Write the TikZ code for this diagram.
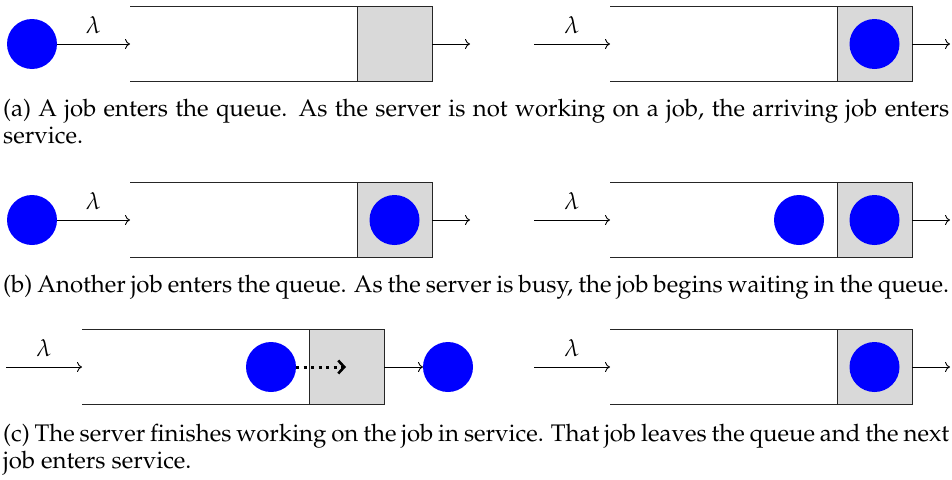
\documentclass[tikz,border=0pt]{standalone}
\usepackage[T1]{fontenc}
\usepackage{mathpazo}
\usetikzlibrary{arrows.meta}

\tikzset{
  queue/.style={rectangle, minimum width=227pt, minimum height=75pt, inner sep=0pt, outer sep=0pt},
  serverbox/.style={rectangle, draw=black!85, fill=black!15, line width=1pt, minimum size=75pt, inner sep=0pt, outer sep=0pt},
  job/.style={circle, fill=blue, minimum size=50pt, inner sep=0pt, outer sep=0pt},
  wall/.style={draw=black!85, line width=1pt},
  flow/.style={line width=0.9pt, -{To[length=5pt,width=10pt]}},
  moving/.style={line width=3pt, dash pattern=on 3pt off 4.5pt, -{Straight Barb[length=6pt,width=13pt,line width=2.6pt]}},
  rate/.style={above=10pt, inner sep=0pt, font=\fontsize{24}{26}\selectfont},
  caption/.style={anchor=base west, inner sep=0pt, font=\fontsize{24}{26.5}\selectfont}
}

\begin{document}
\begin{tikzpicture}[x=1pt, y=-1pt]
\useasboundingbox (0,0) rectangle (952,479);

% ---------- (a) left: a job arrives at an empty system
\node[job] (ja0) at (32,44) {};
\node[queue] (qa1) at (243.5,44) {};
\node[serverbox] (sa1) at (394.5,44) {};
\draw[wall] (qa1.north west) -- (sa1.north west) (qa1.south west) -- (sa1.south west);
\coordinate (oa1) at (470,44);
\draw[flow] (ja0) -- node[rate] {$\lambda$} (qa1.west);
\draw[flow] (sa1.east) -- (oa1);

% ---------- (a) right: the job is in service
\coordinate (ia2) at (534,44);
\node[queue] (qa2) at (723.5,44) {};
\node[serverbox] (sa2) at (874.5,44) {};
\draw[wall] (qa2.north west) -- (sa2.north west) (qa2.south west) -- (sa2.south west);
\node[job] (ja2) at (sa2.center) {};
\coordinate (oa2) at (950,44);
\draw[flow] (ia2) -- node[rate] {$\lambda$} (qa2.west);
\draw[flow] (sa2.east) -- (oa2);

% ---------- (b) left: a second job arrives while the server is busy
\node[job] (jb0) at (32,220) {};
\node[queue] (qb1) at (243.5,220) {};
\node[serverbox] (sb1) at (394.5,220) {};
\draw[wall] (qb1.north west) -- (sb1.north west) (qb1.south west) -- (sb1.south west);
\node[job] (jb1) at (sb1.center) {};
\coordinate (ob1) at (470,220);
\draw[flow] (jb0) -- node[rate] {$\lambda$} (qb1.west);
\draw[flow] (sb1.east) -- (ob1);

% ---------- (b) right: one job waiting, one in service
\coordinate (ib2) at (534,220);
\node[queue] (qb2) at (723.5,220) {};
\node[serverbox] (sb2) at (874.5,220) {};
\draw[wall] (qb2.north west) -- (sb2.north west) (qb2.south west) -- (sb2.south west);
\node[job] (jbw) at (799,220) {};
\node[job] (jb2) at (sb2.center) {};
\coordinate (ob2) at (950,220);
\draw[flow] (ib2) -- node[rate] {$\lambda$} (qb2.west);
\draw[flow] (sb2.east) -- (ob2);

% ---------- (c) left: a departure, the waiting job moves into service
\coordinate (ic1) at (6,367);
\node[queue] (qc1) at (195.5,367) {};
\node[serverbox] (sc1) at (346.5,367) {};
\draw[wall] (qc1.north west) -- (sc1.north west) (qc1.south west) -- (sc1.south west);
\node[job] (jcw) at (271,367) {};
\coordinate (tc1) at (346,367);
\draw[moving] (jcw.east) -- (tc1);
\node[job] (jcd) at (448,367) {};
\draw[flow] (ic1) -- node[rate] {$\lambda$} (qc1.west);
\draw[flow] (sc1.east) -- (jcd.west);

% ---------- (c) right: the next job in service
\coordinate (ic2) at (534,367);
\node[queue] (qc2) at (723.5,367) {};
\node[serverbox] (sc2) at (874.5,367) {};
\draw[wall] (qc2.north west) -- (sc2.north west) (qc2.south west) -- (sc2.south west);
\node[job] (jc2) at (sc2.center) {};
\coordinate (oc2) at (950,367);
\draw[flow] (ic2) -- node[rate] {$\lambda$} (qc2.west);
\draw[flow] (sc2.east) -- (oc2);

% ---------- captions
\node[caption] (capa1) at (3,116.7) {\makebox[946pt][s]{(a) A job enters the queue. As the server is not working on a job, the arriving job enters}};
\node[caption] (capa2) at (3,143.3) {service.};
\node[caption] (capb1) at (3,292) {\makebox[946pt][s]{(b) Another job enters the queue. As the server is busy, the job begins waiting in the queue.}};
\node[caption] (capc1) at (3,441.7) {\makebox[946pt][s]{(c) The server finishes working on the job in service. That job leaves the queue and the next}};
\node[caption] (capc2) at (3,468.3) {job enters service.};
\end{tikzpicture}
\end{document}
